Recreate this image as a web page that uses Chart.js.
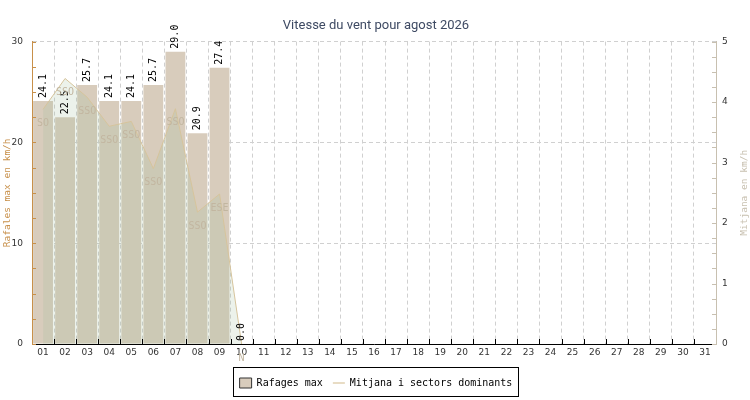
<!DOCTYPE html>
<html>
<head>
<meta charset="utf-8">
<script src="https://cdn.jsdelivr.net/npm/chart.js@4/dist/chart.umd.min.js"></script>
<style>
  html, body { margin: 0; padding: 0; background: #fff; }
  #wrap { width: 750px; height: 400px; }
</style>
</head>
<body>
<div id="wrap"><canvas id="windChart" width="750" height="400"></canvas></div>
<script>
const days = ["01","02","03","04","05","06","07","08","09","10","11","12","13","14","15","16",
              "17","18","19","20","21","22","23","24","25","26","27","28","29","30","31"];
// max gusts (km/h), left axis
const gusts = [24.1, 22.5, 25.7, 24.1, 24.1, 25.7, 29.0, 20.9, 27.4, 0.0];
// average speed (km/h), right axis
const average = [3.88, 4.39, 4.08, 3.6, 3.68, 2.9, 3.89, 2.18, 2.48, 0];
// dominant sector for each day
const sectors = ["SO", "SSO", "SSO", "SSO", "SSO", "SSO", "SSO", "SSO", "ESE", "N"];

const MONO = "'DejaVu Sans Mono', monospace";

// value labels on top of bars + sector names under the line points
const labelsPlugin = {
    id: "labels",
    afterDatasetsDraw(chart) {
        const ctx = chart.ctx;
        ctx.save();
        const bars = chart.getDatasetMeta(0).data;
        ctx.font = "10px " + MONO;
        ctx.fillStyle = "#000";
        ctx.textAlign = "left";
        ctx.textBaseline = "middle";
        bars.forEach(function (bar, i) {
            if (gusts[i] === null || gusts[i] === undefined) return;
            ctx.save();
            ctx.translate(bar.x, bar.y - 3);
            ctx.rotate(-Math.PI / 2);
            ctx.fillText(gusts[i].toFixed(1), 0, 0);
            ctx.restore();
        });
        const pts = chart.getDatasetMeta(1).data;
        ctx.fillStyle = "#c2b6a0";
        ctx.textAlign = "center";
        pts.forEach(function (p, i) {
            if (!sectors[i]) return;
            ctx.fillText(sectors[i], p.x, p.y + 14);
        });
        ctx.restore();
    }
};

// inward tick marks, right axis title, legend frame
const decorPlugin = {
    id: "decor",
    afterDraw(chart) {
        const ctx = chart.ctx;
        const area = chart.chartArea;
        const yL = chart.scales.y, yR = chart.scales.y1, x = chart.scales.x;
        ctx.save();
        ctx.lineWidth = 1;

        ctx.strokeStyle = "#c8904a";
        yL.ticks.forEach(function (t) {
            const py = Math.round(yL.getPixelForValue(t.value)) + 0.5;
            ctx.beginPath(); ctx.moveTo(area.left, py); ctx.lineTo(area.left + 4, py); ctx.stroke();
        });
        ctx.strokeStyle = "#c8c0b0";
        yR.ticks.forEach(function (t) {
            const py = Math.round(yR.getPixelForValue(t.value)) + 0.5;
            ctx.beginPath(); ctx.moveTo(area.right - 4, py); ctx.lineTo(area.right, py); ctx.stroke();
        });
        ctx.strokeStyle = "#000";
        const step = x.getPixelForValue(1) - x.getPixelForValue(0);
        for (let i = 1; i < days.length; i++) {
            const px = Math.round(x.getPixelForValue(i) - step / 2) + 0.5;
            ctx.beginPath(); ctx.moveTo(px, area.bottom); ctx.lineTo(px, area.bottom - 5); ctx.stroke();
        }

        // right axis title, reading bottom to top
        ctx.fillStyle = "#c8c0b0";
        ctx.font = "9.5px " + MONO;
        ctx.textAlign = "center";
        ctx.textBaseline = "middle";
        ctx.translate(745, (area.top + area.bottom) / 2);
        ctx.rotate(-Math.PI / 2);
        ctx.fillText("Mitjana en km/h", 0, 0);
        ctx.restore();

        // frame round the legend
        const boxes = chart.legend.legendHitBoxes;
        if (boxes && boxes.length) {
            const l = Math.min.apply(null, boxes.map(b => b.left));
            const r = Math.max.apply(null, boxes.map(b => b.left + b.width));
            const t = Math.min.apply(null, boxes.map(b => b.top));
            const b = Math.max.apply(null, boxes.map(b => b.top + b.height));
            ctx.save();
            ctx.strokeStyle = "#000";
            ctx.lineWidth = 1;
            ctx.strokeRect(Math.round(l - 7) + 0.5, Math.round(t - 11) + 0.5,
                           Math.round(r - l + 12), Math.round(b - t + 19));
            ctx.restore();
        }
    }
};

new Chart(document.getElementById("windChart"), {
    type: "bar",
    data: {
        labels: days,
        datasets: [{
            label: "Rafages max",
            data: gusts,
            yAxisID: "y",
            backgroundColor: "#d8ccbc",
            borderWidth: 0,
            barPercentage: 0.9,
            categoryPercentage: 1.0,
            order: 1
        }, {
            type: "line",
            label: "Mitjana i sectors dominants",
            data: average,
            yAxisID: "y1",
            borderColor: "#d6c49c",
            borderWidth: 1,
            backgroundColor: "rgba(158,192,153,0.2)",
            fill: "origin",
            pointRadius: 0,
            tension: 0,
            order: 0
        }]
    },
    options: {
        responsive: false,
        animation: false,
        layout: { padding: { left: 2, right: 0, top: 0, bottom: 2 } },
        plugins: {
            title: {
                display: true,
                text: "Vitesse du vent pour agost 2026",
                color: "#3e4a63",
                font: { family: "Roboto", size: 13, weight: "normal" },
                padding: { top: 18, bottom: 8 }
            },
            legend: {
                position: "bottom",
                labels: {
                    color: "#000",
                    font: { family: MONO, size: 10 },
                    usePointStyle: true,
                    pointStyleWidth: 12,
                    boxHeight: 11,
                    padding: 10,
                    sort: (a, b) => a.datasetIndex - b.datasetIndex,
                    generateLabels(chart) {
                        const items = Chart.defaults.plugins.legend.labels.generateLabels(chart);
                        items.forEach(function (it) {
                            if (it.datasetIndex === 0) {
                                it.pointStyle = "rect";
                                it.fillStyle = "#d8ccbc";
                                it.strokeStyle = "#333";
                                it.lineWidth = 1;
                            } else {
                                it.pointStyle = "line";
                                it.strokeStyle = "#e8dcc4";
                                it.lineWidth = 2;
                            }
                        });
                        return items;
                    }
                }
            },
            tooltip: { enabled: false }
        },
        scales: {
            x: {
                afterFit(scale) { scale.height = 24; },
                grid: {
                    offset: true,
                    color: "#d0d0d0",
                    drawTicks: false
                },
                border: { color: "#000", dash: [4, 3] },
                ticks: {
                    color: "#333",
                    font: { family: "'DejaVu Sans'", size: 9 },
                    padding: 3,
                    maxRotation: 0,
                    autoSkip: false
                }
            },
            y: {
                position: "left",
                min: 0,
                max: 30,
                afterFit(scale) { scale.width = 30; },
                grid: {
                    color: ctx => (ctx.tick && ctx.tick.value % 10 === 0 && ctx.tick.value > 0) ? "#d0d0d0" : "rgba(0,0,0,0)",
                    drawTicks: false
                },
                border: { color: "#c8904a", dash: [4, 3] },
                ticks: {
                    stepSize: 2.5,
                    color: "#333",
                    font: { family: "'DejaVu Sans'", size: 9 },
                    padding: 9,
                    callback: v => (v % 10 === 0 ? v : "")
                },
                title: {
                    display: true,
                    text: "Rafales max en km/h",
                    color: "#c8904a",
                    font: { family: MONO, size: 9.5 },
                    padding: { top: 0, bottom: 2 }
                }
            },
            y1: {
                position: "right",
                min: 0,
                max: 5,
                afterFit(scale) { scale.width = 34; },
                grid: { drawOnChartArea: false, drawTicks: false },
                border: { color: "#c8c0b0" },
                ticks: {
                    stepSize: 0.25,
                    color: "#333",
                    font: { family: "'DejaVu Sans'", size: 9 },
                    padding: 6,
                    callback: v => (v % 1 === 0 ? v : "")
                }
            }
        }
    },
    plugins: [labelsPlugin, decorPlugin]
});
</script>
</body>
</html>
